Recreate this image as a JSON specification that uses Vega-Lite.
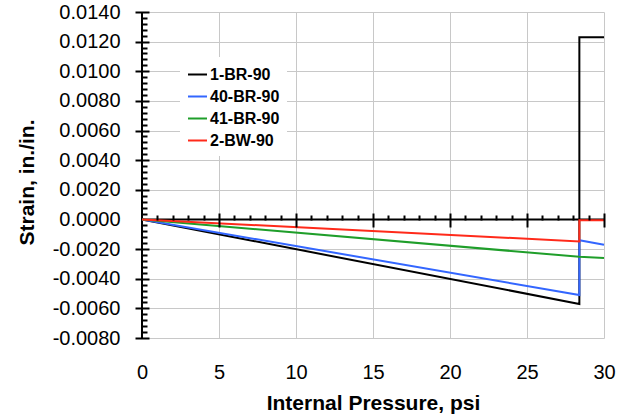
{
  "$schema": "https://vega.github.io/schema/vega-lite/v6.json",
  "autosize": "none",
  "width": 462,
  "height": 326,
  "padding": {"left": 142, "top": 12, "right": 19, "bottom": 80},
  "background": "white",
  "config": {"view": {"stroke": null}, "font": "Liberation Sans"},
  "datasets": {
    "strain": [
      {"series": "1-BR-90", "order": 1, "pressure": 0, "strain": 0},
      {"series": "1-BR-90", "order": 2, "pressure": 28.4, "strain": -0.0057},
      {"series": "1-BR-90", "order": 3, "pressure": 28.4, "strain": 0.0123},
      {"series": "1-BR-90", "order": 4, "pressure": 30, "strain": 0.0123},
      {"series": "40-BR-90", "order": 1, "pressure": 0, "strain": 0},
      {"series": "40-BR-90", "order": 2, "pressure": 28.4, "strain": -0.0051},
      {"series": "40-BR-90", "order": 3, "pressure": 28.4, "strain": -0.0014},
      {"series": "40-BR-90", "order": 4, "pressure": 30, "strain": -0.0017},
      {"series": "41-BR-90", "order": 1, "pressure": 0, "strain": 0},
      {"series": "41-BR-90", "order": 2, "pressure": 28.4, "strain": -0.00252},
      {"series": "41-BR-90", "order": 3, "pressure": 30, "strain": -0.0026},
      {"series": "2-BW-90", "order": 1, "pressure": 0, "strain": 0},
      {"series": "2-BW-90", "order": 2, "pressure": 28.4, "strain": -0.00148},
      {"series": "2-BW-90", "order": 3, "pressure": 28.4, "strain": -0.00005},
      {"series": "2-BW-90", "order": 4, "pressure": 30, "strain": -0.00005}
    ],
    "zeroLine": [{"x": 0, "x2": 30, "y": 0}],
    "yLine": [{"x": 0, "y": -0.008, "y2": 0.014}]
  },
  "resolve": {"axis": {"x": "independent", "y": "independent"}},
  "layer": [
    {
      "data": {"name": "zeroLine"},
      "mark": {"type": "rule", "color": "black", "strokeWidth": 2},
      "encoding": {
        "x": {"field": "x", "type": "quantitative",
          "scale": {"domain": [0, 30], "nice": false},
          "axis": {"orient": "bottom", "values": [0, 5, 10, 15, 20, 25, 30], "domain": false, "ticks": false,
            "grid": true, "gridColor": "#c8c8c8", "gridWidth": 1, "labelFlush": false,
            "labelFontSize": 20, "labelColor": "black", "labelPadding": 24,
            "title": "Internal Pressure, psi", "titleFontSize": 21, "titleFontWeight": "bold", "titleColor": "black", "titlePadding": 10}},
        "x2": {"field": "x2"},
        "y": {"field": "y", "type": "quantitative",
          "scale": {"domain": [-0.008, 0.014], "nice": false, "zero": false},
          "axis": {"orient": "left", "values": [-0.008, -0.006, -0.004, -0.002, 0, 0.002, 0.004, 0.006, 0.008, 0.01, 0.012, 0.014],
            "domain": false, "ticks": false, "grid": true, "gridColor": "#c8c8c8", "gridWidth": 1, "labelFlush": false,
            "labelExpr": "replace(format(datum.value, '.4f'), '\u2212', '-')",
            "labelFontSize": 20, "labelColor": "black", "labelPadding": 22,
            "title": "Strain, in./in.", "titleFontSize": 21, "titleFontWeight": "bold", "titleColor": "black",
            "titleX": -105, "titleY": 170}}
      }
    },
    {
      "data": {"name": "yLine"},
      "mark": {"type": "rule", "color": "black", "strokeWidth": 2},
      "encoding": {
        "x": {"field": "x", "type": "quantitative",
          "axis": {"orient": "bottom", "offset": -118, "zindex": 1, "values": [1,2,3,4,6,7,8,9,11,12,13,14,16,17,18,19,21,22,23,24,26,27,28,29],
            "domain": false, "grid": false, "labels": false, "title": null, "tickSize": -5, "tickColor": "black", "tickWidth": 2}},
        "y": {"field": "y", "type": "quantitative",
          "axis": {"orient": "left", "zindex": 1, "values": [-0.0076,-0.0072,-0.0068,-0.0064,-0.0056,-0.0052,-0.0048,-0.0044,-0.0036,-0.0032,-0.0028,-0.0024,-0.0016,-0.0012,-0.0008,-0.0004,0.0004,0.0008,0.0012,0.0016,0.0024,0.0028,0.0032,0.0036,0.0044,0.0048,0.0052,0.0056,0.0064,0.0068,0.0072,0.0076,0.0084,0.0088,0.0092,0.0096,0.0104,0.0108,0.0112,0.0116,0.0124,0.0128,0.0132,0.0136],
            "domain": false, "grid": false, "labels": false, "title": null, "tickSize": -5, "tickColor": "black", "tickWidth": 2}},
        "y2": {"field": "y2"}
      }
    },
    {
      "data": {"name": "strain"},
      "mark": {"type": "line", "strokeWidth": 2},
      "encoding": {
        "x": {"field": "pressure", "type": "quantitative",
          "axis": {"orient": "bottom", "offset": -125, "zindex": 1, "values": [5, 10, 15, 20, 25, 30],
            "domain": false, "grid": false, "labels": false, "title": null, "tickSize": 14, "tickColor": "black", "tickWidth": 2}},
        "y": {"field": "strain", "type": "quantitative",
          "axis": {"orient": "left", "offset": -7, "zindex": 1, "values": [-0.008, -0.006, -0.004, -0.002, 0.002, 0.004, 0.006, 0.008, 0.01, 0.012, 0.014],
            "domain": false, "grid": false, "labels": false, "title": null, "tickSize": 14, "tickColor": "black", "tickWidth": 2}},
        "order": {"field": "order", "type": "quantitative"},
        "color": {"field": "series", "type": "nominal",
          "scale": {"domain": ["1-BR-90", "40-BR-90", "41-BR-90", "2-BW-90"], "range": ["#000000", "#3366ff", "#1f9e2a", "#ff2a1a"]},
          "legend": {"orient": "none", "legendX": 38, "legendY": 45, "title": null, "symbolType": "stroke", "symbolSize": 361,
            "symbolStrokeWidth": 2, "labelFontSize": 16, "labelFontWeight": "bold", "labelColor": "black", "labelOffset": 2,
            "fillColor": "white", "padding": 7, "rowPadding": 3}}
      }
    }
  ]
}
